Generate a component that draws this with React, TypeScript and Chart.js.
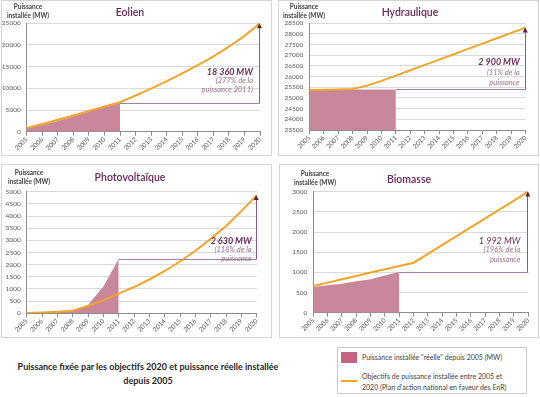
import React, { useEffect, useRef } from 'react';
import { Chart, registerables } from 'chart.js';
Chart.register(...registerables);

const years = ['2005','2006','2007','2008','2009','2010','2011','2012','2013','2014','2015','2016','2017','2018','2019','2020'];

const eolienReel = [757, 1567, 2455, 3577, 4574, 5660, 6640];
const eolienObjectif = [880, 1780, 2750, 3750, 4780, 5800, 6800, 8350, 9950, 11650, 13450, 15350, 17350, 19600, 22100, 25000];

const hydroReel = [25400, 25400, 25400, 25400, 25400, 25400, 25400];
const hydroObjectif = [25380, 25390, 25400, 25420, 25580, 25800, 26050, 26300, 26550, 26800, 27050, 27300, 27550, 27800, 28050, 28300];

const pvReel = [10, 20, 45, 90, 340, 1100, 2230];
const pvObjectif = [10, 30, 60, 110, 300, 540, 810, 1080, 1390, 1740, 2130, 2570, 3060, 3590, 4200, 4860];

const bioReel = [640, 680, 720, 780, 830, 920, 1016];
const bioObjectif = [660, 745, 830, 910, 995, 1075, 1160, 1240, 1460, 1680, 1900, 2120, 2340, 2560, 2780, 3008];

const titles = ['Eolien', 'Hydraulique', 'Photovoltaïque', 'Biomasse'];
const gapLabels = [
  ['18 360 MW', '(277% de la', 'puissance 2011)'],
  ['2 900 MW', '(11% de la', 'puissance'],
  ['2 630 MW', '(118% de la', 'puissance'],
  ['1 992 MW', '(196% de la', 'puissance'],
];
const yMin = [0, 23500, 0, 0];
const yMax = [25000, 28500, 5000, 3000];
const yStep = [5000, 500, 500, 500];

const ORANGE = '#f4a428';
const FILL = '#c8879a';
const SWATCH = '#c4637f';
const GRID = '#d9d9d9';
const AXIS = '#8c8c8c';
const TICK = '#595959';
const FONT = 'Lato, "Open Sans", sans-serif';

type Panel = {
  box: [number, number, number, number];
  pad: { left: number; top: number; right: number; bottom: number };
  reel: number[];
  obj: number[];
  idx: number;
  textDx: number;
  textDy: [number, number, number];
  boldFirst: boolean;
  title: [number, number];
  ytitle: [number, number];
};

const panels: Panel[] = [
  { box: [1, 0, 271, 156], pad: { left: 25.7, top: 23.3, right: 12, bottom: 24.3 }, reel: eolienReel, obj: eolienObjectif, idx: 0, textDx: 7, textDy: [-31, -22, -13], boldFirst: true, title: [130, 12], ytitle: [28, 6] },
  { box: [278, 0, 261, 156], pad: { left: 31.3, top: 23.3, right: 13.3, bottom: 26 }, reel: hydroReel, obj: hydroObjectif, idx: 1, textDx: 6, textDy: [-27, -17, -7], boldFirst: true, title: [410, 12], ytitle: [304, 6] },
  { box: [1, 164, 271, 174], pad: { left: 25.7, top: 27.7, right: 15.3, bottom: 24.7 }, reel: pvReel, obj: pvObjectif, idx: 2, textDx: 5, textDy: [-18, -9, 0], boldFirst: true, title: [130, 177], ytitle: [29, 172] },
  { box: [279, 164, 260, 174], pad: { left: 34.3, top: 27.7, right: 10.7, bottom: 25.3 }, reel: bioReel, obj: bioObjectif, idx: 3, textDx: 8, textDy: [-31, -22, -12], boldFirst: false, title: [409, 179], ytitle: [315, 173] },
];

function ChartPanel({ p }: { p: Panel }) {
  const ref = useRef<HTMLCanvasElement | null>(null);
  useEffect(() => {
    if (!ref.current) return;
    const labels = gapLabels[p.idx];
    const gapPlugin = {
      id: 'gapArrow',
      afterDatasetsDraw(chart: any) {
        const ctx = chart.ctx as CanvasRenderingContext2D;
        const xs = chart.scales.x;
        const ys = chart.scales.y;
        const lastReal = p.reel.length - 1;
        const lastObj = p.obj.length - 1;
        const x1 = xs.getPixelForValue(lastReal);
        const x2 = xs.getPixelForValue(lastObj);
        const yb = ys.getPixelForValue(p.reel[lastReal]);
        const yt = ys.getPixelForValue(p.obj[lastObj]);
        ctx.save();
        ctx.strokeStyle = '#a67f98';
        ctx.lineWidth = 1;
        ctx.beginPath();
        ctx.moveTo(x1, Math.round(yb) + 0.5);
        ctx.lineTo(x2, Math.round(yb) + 0.5);
        ctx.stroke();
        ctx.strokeStyle = '#8e5a7c';
        ctx.beginPath();
        ctx.moveTo(Math.round(x2) - 0.5, yb);
        ctx.lineTo(Math.round(x2) - 0.5, yt + 3);
        ctx.stroke();
        ctx.fillStyle = '#5a1f45';
        ctx.beginPath();
        ctx.moveTo(x2 - 0.5, yt);
        ctx.lineTo(x2 - 3, yt + 5);
        ctx.lineTo(x2 + 2, yt + 5);
        ctx.closePath();
        ctx.fill();
        ctx.textAlign = 'right';
        ctx.textBaseline = 'middle';
        const tx = x2 - p.textDx;
        ctx.fillStyle = '#6e2d5a';
        ctx.font = (p.boldFirst ? 'italic bold 9px ' : 'italic 9px ') + FONT;
        ctx.fillText(labels[0], tx, yb + p.textDy[0]);
        ctx.fillStyle = '#9b6f8f';
        ctx.font = 'italic 7.5px ' + FONT;
        ctx.fillText(labels[1], tx, yb + p.textDy[1]);
        ctx.fillText(labels[2], tx, yb + p.textDy[2]);
        ctx.restore();
      },
    };
    const chart = new Chart(ref.current, {
      type: 'line',
      data: {
        labels: years,
        datasets: [
          { label: 'Objectifs', data: p.obj, borderColor: ORANGE, borderWidth: 2, pointRadius: 0, fill: false, tension: 0, order: 0 },
          { label: 'Réel', data: p.reel, borderColor: 'rgba(0,0,0,0)', borderWidth: 1, backgroundColor: FILL, pointRadius: 0, fill: 'start', tension: 0, order: 1 },
        ],
      },
      options: {
        animation: false,
        responsive: false,
        maintainAspectRatio: false,
        layout: { padding: { left: 0, top: p.pad.top, right: p.pad.right, bottom: 0 } },
        plugins: { legend: { display: false }, tooltip: { enabled: false }, title: { display: false } },
        scales: {
          x: {
            grid: { drawOnChartArea: false, drawTicks: true, tickLength: 4, color: AXIS },
            border: { color: AXIS },
            ticks: { minRotation: 45, maxRotation: 45, autoSkip: false, padding: 0, color: TICK, font: { family: FONT, size: 6.5 } },
            afterFit: (s: any) => { s.height = p.pad.bottom; s.paddingLeft = 0; s.paddingRight = 0; },
          },
          y: {
            min: yMin[p.idx],
            max: yMax[p.idx],
            ticks: { stepSize: yStep[p.idx], autoSkip: false, padding: 6, color: TICK, font: { family: FONT, size: 6.5 }, callback: (v: any) => String(v) },
            grid: { color: GRID, drawTicks: false },
            border: { color: AXIS },
            afterFit: (s: any) => { s.width = p.pad.left; s.paddingTop = 0; s.paddingBottom = 0; },
          },
        },
      } as any,
      plugins: [gapPlugin],
    });
    return () => chart.destroy();
  }, []);
  const [l, t, w, h] = p.box;
  return (
    <>
      <div style={{ position: 'absolute', left: l, top: t, width: w, height: h, border: '1px solid #d4d4d4', boxSizing: 'border-box' }} />
      <canvas ref={ref} width={w} height={h} style={{ position: 'absolute', left: l, top: t, width: w, height: h }} />
      <div style={{ position: 'absolute', left: p.title[0], top: p.title[1], transform: 'translate(-50%,-50%)', fontFamily: FONT, fontSize: 10.5, fontWeight: 600, color: '#6b2558', whiteSpace: 'nowrap' }}>{titles[p.idx]}</div>
      <div style={{ position: 'absolute', left: p.ytitle[0], top: p.ytitle[1] - 4.5, transform: 'translateX(-50%)', fontFamily: FONT, fontSize: 6.5, fontWeight: 700, color: '#404040', whiteSpace: 'nowrap', textAlign: 'center', lineHeight: '9px' }}>
        Puissance<br />installée (MW)
      </div>
    </>
  );
}

export default function App() {
  return (
    <div style={{ position: 'fixed', left: 0, top: 0, width: 540, height: 397, background: '#fff', overflow: 'hidden' }}>
      {panels.map((p) => <ChartPanel key={p.idx} p={p} />)}
      <div style={{ position: 'absolute', left: 7, top: 360, width: 282, textAlign: 'center', fontFamily: FONT, fontSize: 9, fontWeight: 700, color: '#262626', lineHeight: '14px' }}>
        Puissance fixée par les objectifs 2020 et puissance réelle installée<br />depuis 2005
      </div>
      <div style={{ position: 'absolute', left: 337, top: 347, width: 190, height: 47, border: '1px solid #c8c8c8', boxSizing: 'border-box' }} />
      <div style={{ position: 'absolute', left: 341, top: 352, width: 16, height: 11, background: SWATCH }} />
      <div style={{ position: 'absolute', left: 362, top: 352, fontFamily: FONT, fontSize: 7, color: '#404040', whiteSpace: 'nowrap', lineHeight: '11px' }}>Puissance installée "réelle" depuis 2005 (MW)</div>
      <div style={{ position: 'absolute', left: 341, top: 380, width: 16, height: 2, background: ORANGE }} />
      <div style={{ position: 'absolute', left: 362, top: 371, fontFamily: FONT, fontSize: 7, color: '#404040', whiteSpace: 'nowrap', lineHeight: '11px' }}>
        Objectifs de puissance installée entre 2005 et<br />2020 (Plan d'action national en faveur des EnR)
      </div>
    </div>
  );
}
